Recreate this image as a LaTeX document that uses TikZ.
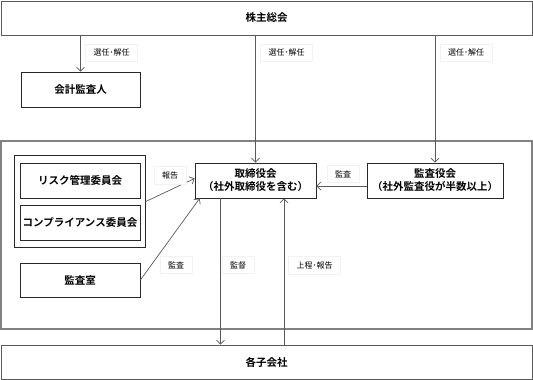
\documentclass[tikz,border=0pt]{standalone}
\usepackage{fontspec}
\setmainfont{Noto Sans CJK JP}[BoldFont={Noto Sans CJK JP Bold}]
\usetikzlibrary{arrows.meta, calc, fit}
\definecolor{boxE}{RGB}{40,40,40}
\definecolor{lineG}{RGB}{90,90,90}
\definecolor{frameG}{RGB}{130,130,130}
\tikzset{
  orgbox/.style={draw=boxE, line width=0.8pt, fill=white, minimum width=120pt, minimum height=35pt,
    align=center, font=\bfseries\fontsize{10.5}{13}\selectfont, inner sep=0pt},
  widebox/.style={orgbox, draw=lineG, minimum width=531pt, minimum height=34pt},
  conn/.style={draw=lineG, line width=0.7pt, -{Straight Barb[length=4pt, width=8pt]}},
  lbl/.style={fill=white, draw=black!5, font=\fontsize{8}{9}\selectfont, inner xsep=8pt, inner ysep=5pt}
}
\begin{document}
\begin{tikzpicture}[x=1pt, y=-1pt]
\useasboundingbox (0,0) rectangle (533,380);
% outer frame of the company
\draw[frameG, line width=1.5pt] (1,141) rectangle (532,329);
% boxes
\node[widebox] (top) at (266.5,18) {株主総会};
\node[orgbox, minimum width=119pt] (kaikei) at (80.5,89.5) {会計監査人};
\node[orgbox] (risk) at (80,180.5) {リスク管理委員会};
\node[orgbox] (comp) at (80,222.5) {コンプライアンス委員会};
\node[draw=boxE, line width=0.8pt, inner xsep=5pt, inner ysep=7pt, fit=(risk)(comp)] (grp) {};
\node[orgbox, minimum height=34pt] (shitsu) at (80,280) {監査室};
\node[orgbox, minimum width=121pt] (tori) at (255.5,180.5) {取締役会\\（社外取締役を含む）};
\node[orgbox, minimum width=136pt] (kansa) at (435,180.5) {監査役会\\（社外監査役が半数以上）};
\node[widebox] (ko) at (266.5,362) {各子会社};
% election from the shareholders
\foreach \t/\n in {kaikei/s1, tori/s2, kansa/s3} {
  \draw[conn] (top.south -| \t.north) -- (\t.north);
  \node[lbl] (\n) at ($(top.south -| \t.north)+(31,17)$) {選任･解任};
}
% reports and audits
\draw[conn] (grp.east) -- ([yshift=2pt]tori.west);
\node[lbl] (rep) at (170,175) {報告};
\draw[conn] (shitsu.east) -- ([xshift=5pt]tori.south west);
\node[lbl] (aud1) at (176,265) {監査};
\draw[conn] ([yshift=-5.5pt]kansa.west) -- ([yshift=-5.5pt]tori.east);
\node[lbl] (aud2) at (343,174) {監査};
% subsidiaries
\coordinate (d1) at ([xshift=-35pt]tori.south);
\coordinate (d2) at ([xshift=28.5pt]tori.south);
\draw[conn] (d1) -- (d1 |- ko.north);
\node[lbl] (sup) at (238,265) {監督};
\draw[conn] (d2 |- ko.north) -- (d2);
\node[lbl] (up) at (314.5,265) {上程･報告};
\end{tikzpicture}
\end{document}
